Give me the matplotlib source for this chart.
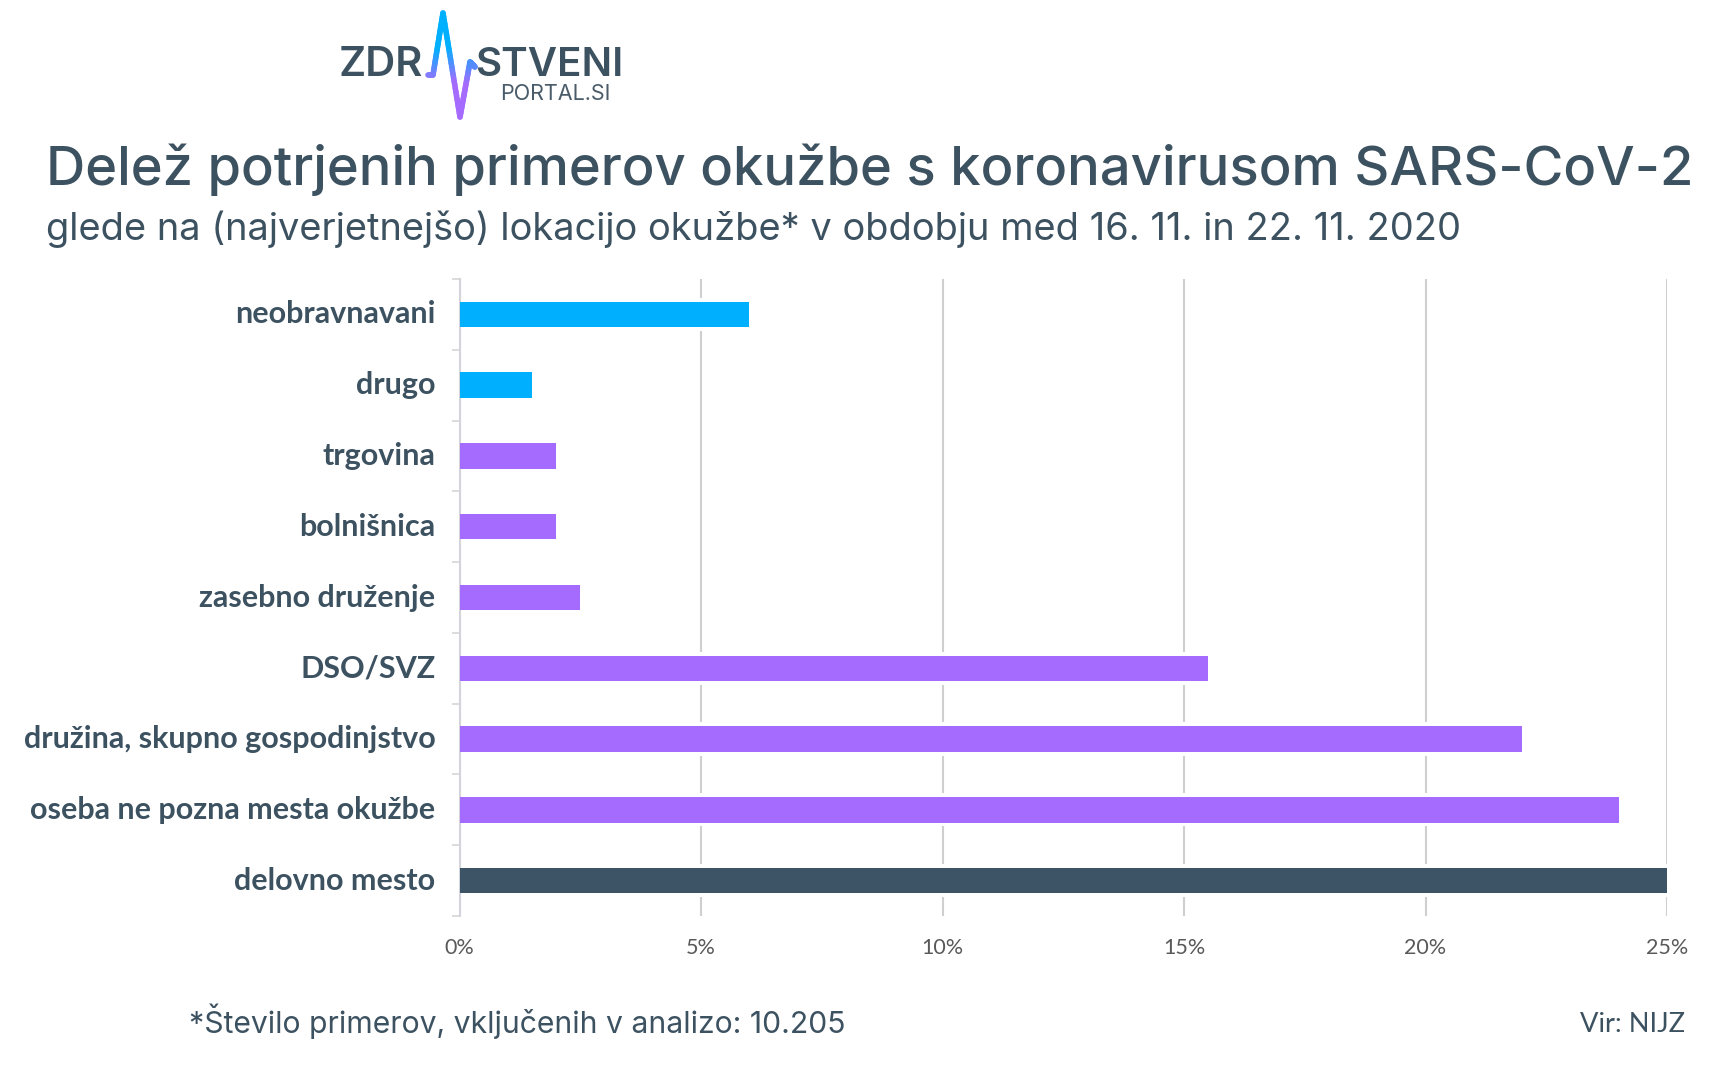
import numpy as np
import matplotlib
matplotlib.use('Agg')
import matplotlib.pyplot as plt
from matplotlib.collections import LineCollection
from matplotlib.colors import LinearSegmentedColormap

# from bottom to top
categories = ['delovno mesto', 'oseba ne pozna mesta okužbe', 'družina, skupno gospodinjstvo',
              'DSO/SVZ', 'zasebno druženje', 'bolnišnica', 'trgovina', 'drugo', 'neobravnavani']
values = [25, 24, 22, 15.5, 2.5, 2, 2, 1.5, 6]
bar_colors = ['#3d5466', '#a56bff', '#a56bff', '#a56bff', '#a56bff', '#a56bff', '#a56bff',
              '#00b0ff', '#00b0ff']
x_ticks = [0, 5, 10, 15, 20, 25]
x_tick_labels = ['0%', '5%', '10%', '15%', '20%', '25%']

title = 'Delež potrjenih primerov okužbe s koronavirusom SARS-CoV-2'
subtitle = 'glede na (najverjetnejšo) lokacijo okužbe* v obdobju med 16. 11. in 22. 11. 2020'
footnote = '*Število primerov, vključenih v analizo: 10.205'
source = 'Vir: NIJZ'

DARK = '#3d5261'
W, H = 1710, 1080

fig = plt.figure(figsize=(W / 100, H / 100), dpi=100, facecolor='white')

# chart, placed in pixels of the reference
left, right, top, bottom = 459.5, 1667, 279, 916
ax = fig.add_axes([left / W, 1 - bottom / H, (right - left) / W, (bottom - top) / H])
y = np.arange(len(categories))
ax.barh(y, values, height=0.47, color='white', zorder=2)
ax.barh(y, values, height=0.36, color=bar_colors, zorder=3)
ax.set_xlim(0, 25)
ax.set_ylim(-0.5, len(categories) - 0.5)
ax.set_xticks(x_ticks)
ax.set_xticklabels(x_tick_labels, family='Lato', fontsize=15.5, color='#595959')
ax.tick_params(axis='x', length=0, pad=16)
ax.set_yticks(np.arange(len(categories) + 1) - 0.5)
ax.set_yticklabels([])
ax.tick_params(axis='y', length=6, width=1.3, color='#d9d9d9')
ax.grid(axis='x', color='#cfcfcf', linewidth=1.5, zorder=1)
ax.set_axisbelow(True)
for s in ['top', 'right', 'bottom']:
    ax.spines[s].set_visible(False)
ax.spines['left'].set_color('#d4d4dc')
ax.spines['left'].set_linewidth(1.5)
for i, c in enumerate(categories):
    ax.annotate(c, xy=(0, i), xycoords=('axes fraction', 'data'), xytext=(-24, 0),
                textcoords='offset pixels', ha='right', va='center',
                family='Lato', fontweight='bold', fontsize=22, color=DARK)

# overlay in pixel coordinates for header and footer
ov = fig.add_axes([0, 0, 1, 1], facecolor='none')
ov.set_xlim(0, W)
ov.set_ylim(H, 0)
ov.axis('off')

ov.text(46, 185, title, family='Inter', fontweight='medium', fontsize=39.2, color=DARK, va='baseline')
ov.text(46, 240, subtitle, family='Inter', fontsize=27.4, color=DARK, va='baseline')
ov.text(189, 1033, footnote, family='Inter', fontsize=21.7, color=DARK, va='baseline')
ov.text(1685, 1032, source, family='Lato', fontsize=19.6, color=DARK, va='baseline', ha='right')

# logo
ov.text(339, 76, 'ZDR', family='Inter', fontweight='semibold', fontsize=30, color=DARK, va='baseline')
ov.text(475, 76, 'STVENI', family='Inter', fontweight='semibold', fontsize=29, color=DARK, va='baseline')
ov.text(500, 100, 'PORTAL.SI', family='Inter', fontsize=15.5, color='#4a5c6a', va='baseline')

pulse_x = [428, 433, 443, 460, 470, 475]
pulse_y = [75, 75, 13, 117, 62, 67]
px, py = [], []
for k in range(len(pulse_x) - 1):
    px.extend(np.linspace(pulse_x[k], pulse_x[k + 1], 30))
    py.extend(np.linspace(pulse_y[k], pulse_y[k + 1], 30))
pts = np.column_stack([px, py])
segs = np.stack([pts[:-1], pts[1:]], axis=1)
cmap = LinearSegmentedColormap.from_list('logo', ['#00b0ff', '#00b0ff', '#a56bff', '#a56bff'])
lc = LineCollection(segs, cmap=cmap, linewidths=4, capstyle='round')
lc.set_array((pts[:-1, 1] - 13) / 104)
ov.add_collection(lc)

fig.savefig('out.png', dpi=100)
